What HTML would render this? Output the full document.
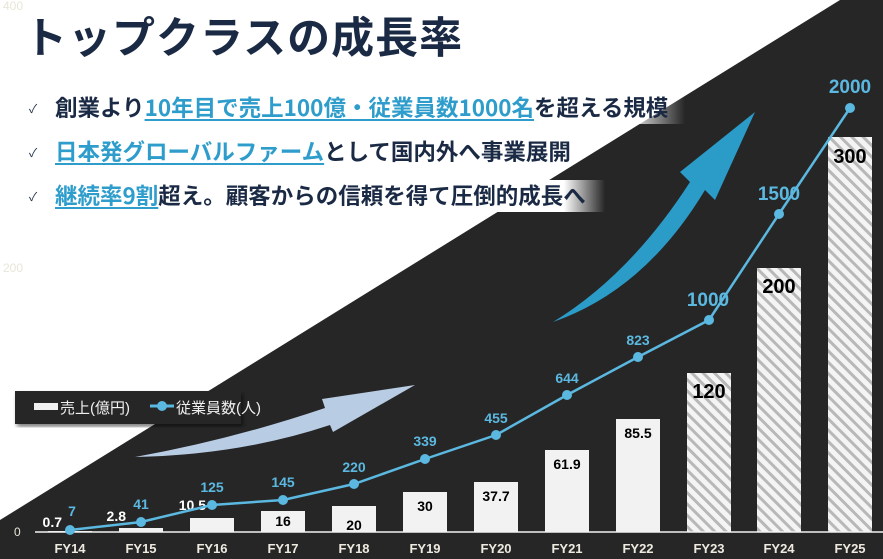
<!DOCTYPE html>
<html><head><meta charset="utf-8"><style>
body{margin:0;width:883px;height:559px;overflow:hidden;background:#fff;position:relative;font-family:"Liberation Sans","Noto Sans CJK JP",sans-serif}
svg{position:absolute;left:0;top:0}
.t{position:absolute;white-space:nowrap}
.b{font-weight:bold;color:#1b2a44;font-size:22.5px;font-family:"Noto Sans CJK JP",sans-serif}
.u{color:#2e9dcc;text-decoration:underline;text-decoration-thickness:2px;text-underline-offset:3px}
.ck{position:absolute;left:29px;font-size:12px;color:#1b2a44}
</style></head><body>
<svg width="883" height="559" viewBox="0 0 883 559">
<defs>
<pattern id="h" width="8" height="8" patternUnits="userSpaceOnUse" patternTransform="rotate(-45)">
<rect width="8" height="8" fill="#f4f4f4"/><rect width="3" height="8" fill="#b8b8b8"/></pattern>
<linearGradient id="g1" x1="0" x2="1"><stop offset="0" stop-color="#fff"/><stop offset="0.75" stop-color="#fff"/><stop offset="1" stop-color="#fff" stop-opacity="0"/></linearGradient>
<filter id="sh"><feDropShadow dx="2" dy="3" stdDeviation="2" flood-opacity="0.5"/></filter>
</defs>
<polygon points="840,0 883,0 883,559 0,559 0,520" fill="#262626"/>
<rect x="440" y="92" width="245" height="32" fill="url(#g1)"/>
<rect x="440" y="180" width="165" height="32" fill="url(#g1)"/>
<text x="3" y="10" font-size="12" fill="#e8e6d8" font-family="Liberation Sans">400</text>
<text x="3" y="272" font-size="12" fill="#e8e6d8" font-family="Liberation Sans">200</text>
<text x="14" y="536" font-size="12" fill="#e8e6d8" font-family="Liberation Sans">0</text>
<rect x="15" y="391" width="226" height="33" fill="#262626" filter="url(#sh)"/>
<rect x="34" y="403" width="24" height="7" fill="#f0f0f0"/>
<text x="60" y="413" font-size="15" fill="#f0f0f0" font-family="Liberation Sans,Noto Sans CJK JP,sans-serif">売上(億円)</text>
<line x1="150" y1="406" x2="174" y2="406" stroke="#5bb8e0" stroke-width="3"/><circle cx="162" cy="406" r="5" fill="#5bb8e0"/>
<text x="176" y="413" font-size="15" fill="#f0f0f0" font-family="Liberation Sans,Noto Sans CJK JP,sans-serif">従業員数(人)</text>
<path d="M135,457 Q230,440 325,408 L322,399 L415,385 L333,432 L330,425 Q240,455 135,457 Z" fill="#b8cce4"/>
<path d="M553,322 Q630,275 690,182 L680,172 L755,112 L715,200 L705,190 Q645,290 553,322 Z" fill="#2b9bc8"/>
<g fill="#f2f2f2">
<rect x="48" y="531" width="44" height="1"/>
<rect x="119" y="528" width="44" height="4"/>
<rect x="190" y="518" width="44" height="14"/>
<rect x="261" y="511" width="44" height="21"/>
<rect x="332" y="506" width="44" height="26"/>
<rect x="403" y="492" width="44" height="40"/>
<rect x="474" y="482" width="44" height="50"/>
<rect x="545" y="450" width="44" height="82"/>
<rect x="616" y="419" width="44" height="113"/>
</g>
<rect x="687" y="373" width="44" height="159" fill="url(#h)"/>
<rect x="757" y="268" width="44" height="264" fill="url(#h)"/>
<rect x="828" y="137" width="44" height="395" fill="url(#h)"/>
<line x1="35" y1="532" x2="883" y2="532" stroke="#f2f2f2" stroke-width="1.5"/>
<g font-family="Liberation Sans" font-weight="bold" font-size="14" fill="#000" text-anchor="middle">
<text x="283" y="526">16</text><text x="354" y="530">20</text><text x="425" y="511">30</text>
<text x="496" y="501">37.7</text><text x="567" y="469">61.9</text><text x="638" y="438">85.5</text>
</g>
<g font-family="Liberation Sans" font-weight="bold" font-size="20" fill="#000" text-anchor="middle">
<text x="709" y="398">120</text><text x="779" y="293">200</text><text x="850" y="163">300</text>
</g>
<g font-family="Liberation Sans" font-weight="bold" font-size="14" fill="#fff" text-anchor="end">
<text x="62" y="527">0.7</text><text x="126" y="521">2.8</text><text x="206" y="510">10.5</text>
</g>
<polyline points="70,530 141,522 212,505 283,500 354,484 425,459 496,435 567,395 638,357 709,320 779,214 850,108" fill="none" stroke="#5bb8e0" stroke-width="2.5"/>
<g fill="#5bb8e0">
<circle cx="70" cy="530" r="5"/><circle cx="141" cy="522" r="5"/><circle cx="212" cy="505" r="5"/><circle cx="283" cy="500" r="5"/><circle cx="354" cy="484" r="5"/><circle cx="425" cy="459" r="5"/><circle cx="496" cy="435" r="5"/><circle cx="567" cy="395" r="5"/><circle cx="638" cy="357" r="5"/><circle cx="709" cy="320" r="5"/><circle cx="779" cy="214" r="5"/><circle cx="850" cy="108" r="5"/>
</g>
<g font-family="Liberation Sans" font-weight="bold" font-size="14" fill="#5bb8e0" text-anchor="middle">
<text x="72" y="516">7</text><text x="141" y="509">41</text><text x="212" y="492">125</text><text x="283" y="487">145</text><text x="354" y="472">220</text><text x="425" y="446">339</text><text x="496" y="423">455</text><text x="567" y="383">644</text><text x="638" y="345">823</text>
</g>
<g font-family="Liberation Sans" font-weight="bold" font-size="19" fill="#5bb8e0" text-anchor="middle">
<text x="708" y="306">1000</text><text x="779" y="200">1500</text><text x="850" y="93">2000</text>
</g>
<g font-family="Liberation Sans" font-weight="bold" font-size="13" fill="#eeeae0" text-anchor="middle">
<text x="70" y="553">FY14</text><text x="141" y="553">FY15</text><text x="212" y="553">FY16</text><text x="283" y="553">FY17</text><text x="354" y="553">FY18</text><text x="425" y="553">FY19</text><text x="496" y="553">FY20</text><text x="567" y="553">FY21</text><text x="638" y="553">FY22</text><text x="709" y="553">FY23</text><text x="779" y="553">FY24</text><text x="850" y="553">FY25</text>
</g>
</svg>
<div class="t b" style="left:24px;top:4px;font-size:43px;letter-spacing:1px">トップクラスの成長率</div>
<div class="ck" style="top:100px">✓</div>
<div class="ck" style="top:144px">✓</div>
<div class="ck" style="top:188px">✓</div>
<div class="t b" style="left:55px;top:91px">創業より<span class="u">10年目で売上100億・従業員数1000名</span>を超える規模</div>
<div class="t b" style="left:55px;top:135px"><span class="u">日本発グローバルファーム</span>として国内外へ事業展開</div>
<div class="t b" style="left:55px;top:179px"><span class="u">継続率9割</span>超え。顧客からの信頼を得て圧倒的成長へ</div>
</body></html>
